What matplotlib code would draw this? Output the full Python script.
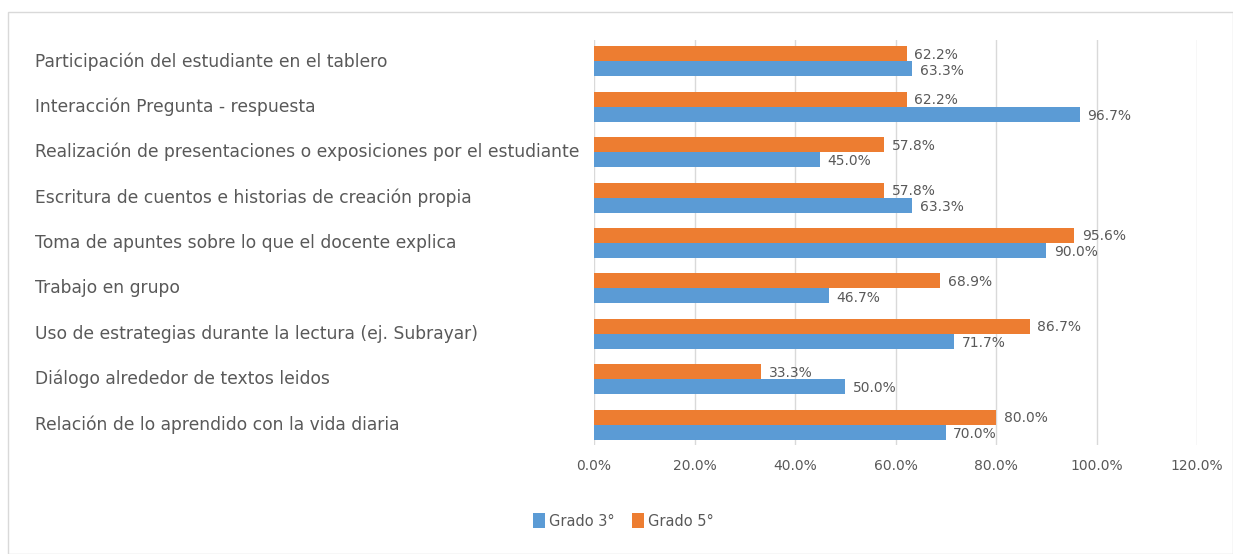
import matplotlib.pyplot as plt
import matplotlib.patches as patches
import matplotlib.transforms as mtransforms
import numpy as np

# data
categorias = [
    "Participación del estudiante en el tablero",
    "Interacción Pregunta - respuesta",
    "Realización de presentaciones o exposiciones por el estudiante",
    "Escritura de cuentos e historias de creación propia",
    "Toma de apuntes sobre lo que el docente explica",
    "Trabajo en grupo",
    "Uso de estrategias durante la lectura (ej. Subrayar)",
    "Diálogo alrededor de textos leidos",
    "Relación de lo aprendido con la vida diaria",
]
grado3 = [63.3, 96.7, 45.0, 63.3, 90.0, 46.7, 71.7, 50.0, 70.0]
grado5 = [62.2, 62.2, 57.8, 57.8, 95.6, 68.9, 86.7, 33.3, 80.0]
series = ["Grado 3°", "Grado 5°"]
x_ticks = [0, 20, 40, 60, 80, 100, 120]

azul = "#5B9BD5"
naranja = "#ED7D31"
gris = "#595959"

plt.rcParams.update({'font.family': ['DejaVu Sans'], 'font.size': 9.5})

fig = plt.figure(figsize=(12.33, 5.54), dpi=100)
ax = fig.add_axes([594/1233, 109/554, 603/1233, 405/554])

y = np.arange(len(categorias))
h = 0.33
ax.barh(y + h/2, grado3, height=h, color=azul, zorder=3, label=series[0])
ax.barh(y - h/2, grado5, height=h, color=naranja, zorder=3, label=series[1])

for yi, v in zip(y, grado3):
    ax.text(v + 1.5, yi + h/2 + 0.04, "%.1f%%" % v, va="center", ha="left",
            color=gris, fontsize=10)
for yi, v in zip(y, grado5):
    ax.text(v + 1.5, yi - h/2 + 0.02, "%.1f%%" % v, va="center", ha="left",
            color=gris, fontsize=10)

ax.set_xlim(0, 120)
ax.set_ylim(8.45, -0.47)
ax.set_xticks(x_ticks)
ax.set_xticklabels(["%.1f%%" % t for t in x_ticks], color=gris, fontsize=10)
ax.tick_params(axis="x", length=0, pad=10)
ax.set_yticks([])
ax.grid(axis="x", color="#D9D9D9", linewidth=1, zorder=0)
for s in ax.spines.values():
    s.set_visible(False)

# category labels, left aligned near the figure edge
trans = mtransforms.blended_transform_factory(fig.transFigure, ax.transData)
for yi, c in zip(y, categorias):
    ax.text(35/1233, yi, c, transform=trans, ha="left", va="center",
            color=gris, fontsize=12.3, clip_on=False)

# legend
fig.legend(loc="center left", bbox_to_anchor=(520/1233, 1 - 521/554), ncol=2,
           frameon=False, fontsize=10.5, handlelength=0.8, handleheight=1.2,
           handletextpad=0.3, columnspacing=1.2, labelcolor=gris)

# chart border
fig.patches.append(patches.Rectangle((8/1233, 0), 1 - 8/1233, 1 - 12/554,
                                     transform=fig.transFigure, fill=False,
                                     edgecolor="#D9D9D9", linewidth=1))

plt.savefig("out.png", dpi=100)
